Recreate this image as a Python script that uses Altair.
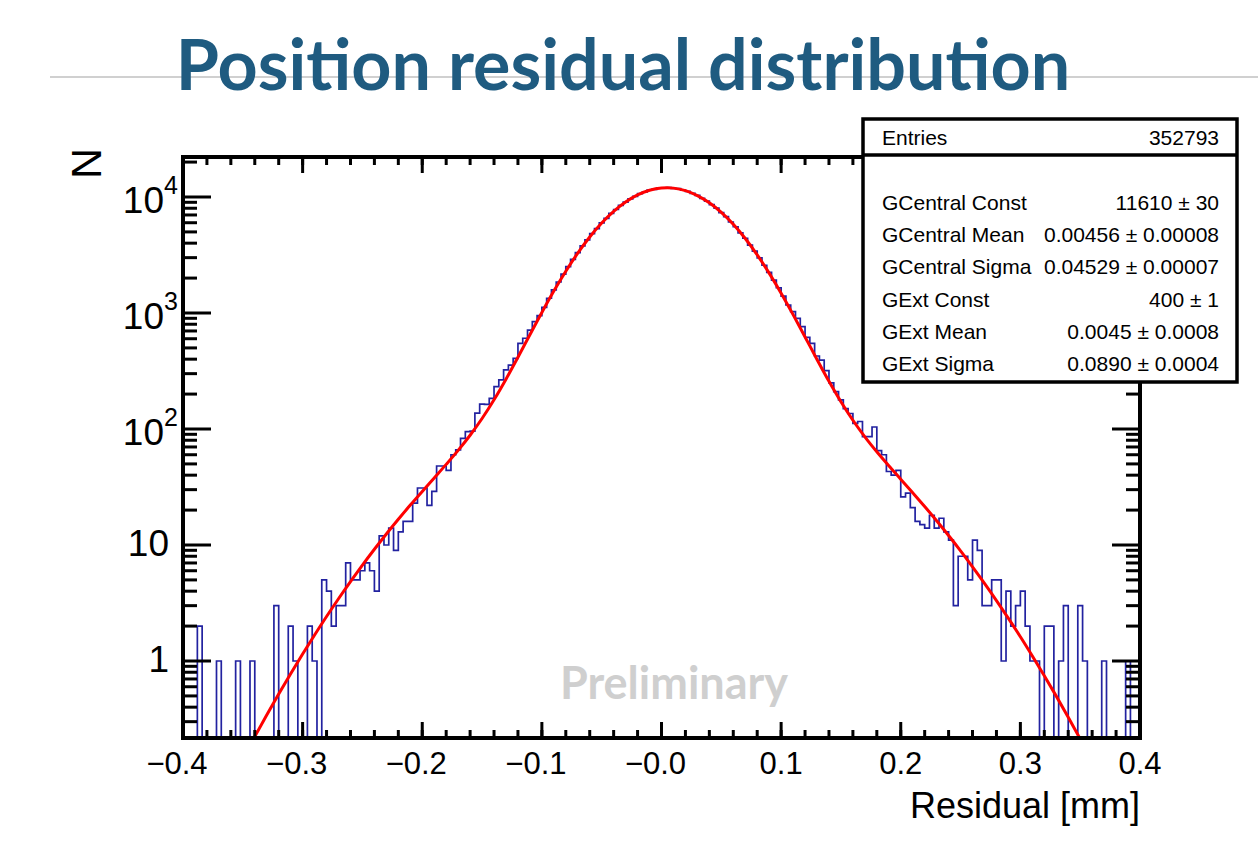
import altair as alt
import pandas as pd

# ---------------- data ----------------
# histogram: 200 bins of width 0.004 mm from -0.4 to 0.4
counts = [
    0, 0, 0, 2, 0, 0, 0, 1, 0, 0,
    0, 1, 0, 0, 1, 0, 0, 0, 0, 3,
    0, 0, 2, 1, 0, 0, 2, 1, 0, 5,
    4, 2, 3, 3, 7, 5, 5, 6, 7, 6,
    4, 12, 10, 14, 9, 13, 16, 16, 23, 31,
    31, 22, 29, 48, 48, 44, 60, 66, 83, 95,
    96, 137, 164, 163, 184, 232, 265, 323, 356, 407,
    548, 606, 713, 841, 950, 1120, 1340, 1580, 1850, 2160,
    2510, 2900, 3320, 3790, 4270, 4830, 5340, 5990, 6550, 7230,
    7800, 8470, 9020, 9650, 10120, 10690, 11040, 11460, 11650, 11930,
    11970, 12050, 11890, 11790, 11470, 11200, 10730, 10330, 9740, 9230,
    8580, 8020, 7330, 6760, 6090, 5540, 4910, 4410, 3850, 3420,
    2990, 2580, 2240, 1920, 1650, 1400, 1172, 1026, 899, 762,
    617, 548, 426, 393, 318, 250, 210, 178, 150, 136,
    112, 116, 86, 86, 104, 65, 60, 43, 40, 44,
    26, 28, 21, 16, 15, 14, 18, 14, 17, 13,
    11, 3, 8, 8, 5, 11, 9, 3, 3, 5,
    5, 1, 4, 2, 3, 4, 2, 1, 1, 0,
    2, 2, 0, 1, 3, 0, 0, 3, 1, 0,
    0, 0, 1, 0, 0, 0, 0, 1, 0, 0,
]
bin_low = -0.4
bin_width = 0.004

# fitted double-gaussian curve, sampled along x
fit_x = [-0.35, -0.34, -0.33, -0.32, -0.31, -0.30, -0.29, -0.28, -0.27, -0.26,
         -0.25, -0.24, -0.23, -0.22, -0.21, -0.20, -0.19, -0.18, -0.17, -0.16,
         -0.15, -0.14, -0.13, -0.12, -0.11, -0.10, -0.09, -0.08, -0.07, -0.06,
         -0.05, -0.04, -0.03, -0.02, -0.01, 0.00, 0.005, 0.01, 0.02, 0.03,
         0.04, 0.05, 0.06, 0.07, 0.08, 0.09, 0.10, 0.11, 0.12, 0.13,
         0.14, 0.15, 0.16, 0.17, 0.18, 0.19, 0.20, 0.21, 0.22, 0.23,
         0.24, 0.25, 0.26, 0.27, 0.28, 0.29, 0.30, 0.31, 0.32, 0.33,
         0.34, 0.35, 0.36]
fit_y = [0.143, 0.223, 0.342, 0.519, 0.777, 1.148, 1.676, 2.418, 3.44, 4.83,
         6.71, 9.19, 12.45, 16.66, 22.08, 28.98, 37.88, 49.54, 65.4, 88.3,
         123.1, 178.6, 268.8, 415.7, 650.2, 1011, 1544, 2291.5, 3283, 4519,
         5960, 7518, 9057, 10415, 11425, 11952, 12010, 11924, 11343.5, 10292,
         8909, 7360, 5809, 4385, 3172.5, 2206, 1481.7, 968, 621.6, 397.7,
         257.6, 171.8, 118.9, 85.6, 63.6, 48.2, 36.9, 28.2, 21.47, 16.19,
         12.07, 8.91, 6.49, 4.67, 3.32, 2.33, 1.62, 1.106, 0.747, 0.498,
         0.328, 0.213, 0.137]

x_major = [-0.4, -0.3, -0.2, -0.1, 0.0, 0.1, 0.2, 0.3, 0.4]
x_labels = ["\u22120.4", "\u22120.3", "\u22120.2", "\u22120.1", "\u22120.0", "0.1", "0.2", "0.3", "0.4"]
y_major = [1, 10, 100, 1000, 10000]
y_base = ["1", "10", "10", "10", "10"]
y_exp = ["", "", "2", "3", "4"]

stat_names = ["GCentral Const", "GCentral Mean", "GCentral Sigma", "GExt Const", "GExt Mean", "GExt Sigma"]
stat_values = ["11610 \u00b1 30", "0.00456 \u00b1 0.00008", "0.04529 \u00b1 0.00007",
               "400 \u00b1 1", "0.0045 \u00b1 0.0008", "0.0890 \u00b1 0.0004"]
entries_value = "352793"

title_text = "Position residual distribution"
x_title = "Residual [mm]"
y_title = "N"
watermark = "Preliminary"

# ---------------- layout ----------------
W, H = 957, 581
PAD = {"left": 183, "top": 157, "right": 118, "bottom": 108}
XMIN, XMAX = -0.4, 0.4
YMIN, YMAX = 0.2169, 22120
FONT = "Liberation Sans"
TFONT = "Lato"

xs = alt.Scale(domain=[XMIN, XMAX], nice=False, zero=False)
ys = alt.Scale(type="log", domain=[YMIN, YMAX], nice=False)

# histogram outline as a step line over bin edges
edges = [round(bin_low + bin_width * i, 4) for i in range(len(counts) + 1)]
hist_vals = counts + [counts[-1]]
hist_df = pd.DataFrame({"x": edges, "y": [v if v > 0 else 0.01 for v in hist_vals]})
fit_df = pd.DataFrame({"x": fit_x, "y": fit_y})

x_minor = [round(-0.4 + 0.02 * i, 3) for i in range(41)]
y_minor = [m * 10.0 ** e for e in range(-1, 5) for m in range(2, 10) if YMIN < m * 10.0 ** e < YMAX]

one = pd.DataFrame({"a": [0]})

hist = alt.Chart(hist_df).mark_line(interpolate="step-after", color="#2222a0", strokeWidth=1.7, clip=True).encode(
    x=alt.X("x:Q", scale=xs, axis=None), y=alt.Y("y:Q", scale=ys, axis=None))
fit = alt.Chart(fit_df).mark_line(interpolate="monotone", color="#ff0000", strokeWidth=3, clip=True).encode(
    x=alt.X("x:Q", scale=xs, axis=None), y=alt.Y("y:Q", scale=ys, axis=None))

frame = alt.Chart(one).mark_rect(filled=False, stroke="black", strokeWidth=4).encode(
    x=alt.value(0), x2=alt.value(W), y=alt.value(0), y2=alt.value(H))

xmaj_df = pd.DataFrame({"x": x_major, "label": x_labels})
xmin_df = pd.DataFrame({"x": x_minor})
ymaj_df = pd.DataFrame({"y": y_major, "base": y_base, "exp": y_exp})
ymin_df = pd.DataFrame({"y": y_minor})

def xticks(df, length):
    bot = alt.Chart(df).mark_rule(color="black", strokeWidth=3).encode(
        x=alt.X("x:Q", scale=xs, axis=None), y=alt.value(H), y2=alt.value(H - length))
    top = alt.Chart(df).mark_rule(color="black", strokeWidth=3).encode(
        x=alt.X("x:Q", scale=xs, axis=None), y=alt.value(0), y2=alt.value(length))
    return [bot, top]

def yticks(df, length):
    left = alt.Chart(df).mark_rule(color="black", strokeWidth=3).encode(
        y=alt.Y("y:Q", scale=ys, axis=None), x=alt.value(0), x2=alt.value(length))
    right = alt.Chart(df).mark_rule(color="black", strokeWidth=3).encode(
        y=alt.Y("y:Q", scale=ys, axis=None), x=alt.value(W), x2=alt.value(W - length))
    return [left, right]

ticks = xticks(xmin_df, 8) + xticks(xmaj_df, 16) + yticks(ymin_df, 14) + yticks(ymaj_df, 28)

XL = 31
xlab_neg = alt.Chart(xmaj_df).transform_filter("indexof(datum.label, '\u2212') == 0").mark_text(
    font=FONT, fontSize=XL, baseline="top", align="center", dx=-6, color="black").encode(
    x=alt.X("x:Q", scale=xs, axis=None), y=alt.value(H + 12), text="label:N")
xlab_pos = alt.Chart(xmaj_df).transform_filter("indexof(datum.label, '\u2212') != 0").mark_text(
    font=FONT, fontSize=XL, baseline="top", align="center", color="black").encode(
    x=alt.X("x:Q", scale=xs, axis=None), y=alt.value(H + 12), text="label:N")

YL = 37
ylab_small = alt.Chart(ymaj_df).transform_filter("datum.exp == ''").mark_text(
    font=FONT, fontSize=YL, baseline="middle", align="right", color="black").encode(
    y=alt.Y("y:Q", scale=ys, axis=None), x=alt.value(-14), text="base:N")
ylab_base = alt.Chart(ymaj_df).transform_filter("datum.exp != ''").mark_text(
    font=FONT, fontSize=YL, baseline="middle", align="right", dy=5, color="black").encode(
    y=alt.Y("y:Q", scale=ys, axis=None), x=alt.value(-19), text="base:N")
ylab_exp = alt.Chart(ymaj_df).transform_filter("datum.exp != ''").mark_text(
    font=FONT, fontSize=25, baseline="middle", align="left", dy=-11, color="black").encode(
    y=alt.Y("y:Q", scale=ys, axis=None), x=alt.value(-19), text="exp:N")

xtitle = alt.Chart(one).mark_text(font=FONT, fontSize=36, align="right", baseline="alphabetic", color="black").encode(
    x=alt.value(W), y=alt.value(H + 80), text=alt.value(x_title))
ytitle = alt.Chart(one).mark_text(font=FONT, fontSize=43, align="right", baseline="middle", angle=270, color="black").encode(
    x=alt.value(-95), y=alt.value(-9), text=alt.value(y_title))

# stats box
BX0, BX1, BY0, BY1 = 680, 1054, -38, 225
SF = 21
box = alt.Chart(one).mark_rect(fill="white", stroke="black", strokeWidth=3.5).encode(
    x=alt.value(BX0), x2=alt.value(BX1), y=alt.value(BY0), y2=alt.value(BY1))
divider = alt.Chart(one).mark_rule(color="black", strokeWidth=3.5).encode(
    x=alt.value(BX0), x2=alt.value(BX1), y=alt.value(-2))
entries_l = alt.Chart(one).mark_text(font=FONT, fontSize=SF, align="left", baseline="middle", color="black").encode(
    x=alt.value(BX0 + 19), y=alt.value(-18), text=alt.value("Entries"))
entries_r = alt.Chart(one).mark_text(font=FONT, fontSize=SF, align="right", baseline="middle", color="black").encode(
    x=alt.value(BX1 - 18), y=alt.value(-18), text=alt.value(entries_value))
stats_df = pd.DataFrame({"idx": list(range(len(stat_names))), "name": stat_names, "val": stat_values})
stats_base = alt.Chart(stats_df).transform_calculate(py="47 + datum.idx * 32.2")
stats_l = stats_base.mark_text(font=FONT, fontSize=SF, align="left", baseline="middle", color="black").encode(
    x=alt.value(BX0 + 19), y=alt.Y("py:Q", scale=None, axis=None), text="name:N")
stats_r = stats_base.mark_text(font=FONT, fontSize=SF, align="right", baseline="middle", color="black").encode(
    x=alt.value(BX1 - 18), y=alt.Y("py:Q", scale=None, axis=None), text="val:N")

# slide decorations
hline = alt.Chart(one).mark_rule(color="#c0c0c0", strokeWidth=1.5).encode(
    x=alt.value(-133), x2=alt.value(1075), y=alt.value(-80))
title = alt.Chart(one).mark_text(font=TFONT, fontSize=70, fontWeight="bold", align="center",
                                 baseline="alphabetic", color="#1f5b80").encode(
    x=alt.value(440), y=alt.value(-67), text=alt.value(title_text))
prelim = alt.Chart(one).mark_text(font=TFONT, fontSize=45, fontWeight="bold", align="center",
                                  baseline="alphabetic", color="#cfcfcf").encode(
    x=alt.value(491), y=alt.value(542), text=alt.value(watermark))

layers = [hline, title, prelim, hist, fit, frame] + ticks + [
    xlab_neg, xlab_pos, ylab_small, ylab_base, ylab_exp, xtitle, ytitle,
    box, divider, entries_l, entries_r, stats_l, stats_r]

chart = alt.layer(*layers).properties(
    width=W, height=H, padding=PAD, autosize=alt.AutoSizeParams(type="none"), background="white"
).configure_view(stroke="transparent")

chart.save("out.html", embed_options={"renderer": "svg", "actions": False})
